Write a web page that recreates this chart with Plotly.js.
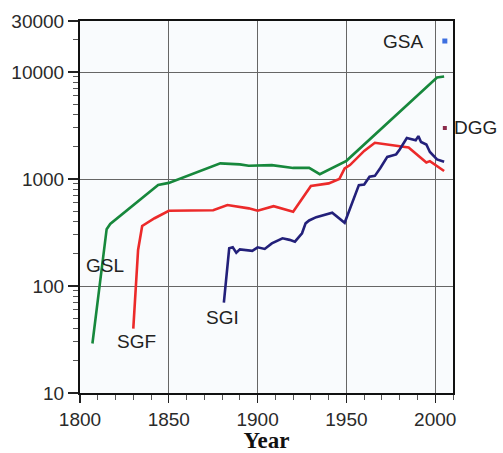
<!DOCTYPE html>
<html>
<head>
<meta charset="utf-8">
<script src="https://cdn.plot.ly/plotly-3.0.1.min.js"></script>
<style>html,body{margin:0;padding:0;background:#fff;}#chart{width:503px;height:453px;}</style>
</head>
<body>
<div id="chart"></div>
<script>
// GSL (green)
const gslYears = [1807, 1815, 1817, 1844, 1850, 1879, 1890, 1895, 1908, 1920, 1929, 1935, 1950, 2001, 2005];
const gslValues = [29, 340, 380, 880, 920, 1400, 1370, 1330, 1350, 1270, 1270, 1110, 1480, 8900, 9100];
// SGF (red)
const sgfYears = [1830, 1832.7, 1835, 1842, 1850, 1875, 1883, 1895, 1900, 1909, 1920, 1926, 1930, 1940, 1946, 1949, 1952, 1960, 1966, 1985, 1995, 1997, 2005];
const sgfValues = [40, 217, 364, 430, 505, 511, 571, 532, 505, 558, 494, 682, 860, 910, 1000, 1256, 1350, 1830, 2180, 1970, 1430, 1470, 1190];
// SGI (navy)
const sgiYears = [1881, 1884, 1886, 1888, 1890, 1897, 1900, 1904, 1908, 1914, 1918, 1921, 1925, 1927, 1929, 1933, 1942, 1949, 1957, 1960, 1963, 1966, 1969, 1973, 1978, 1980, 1984, 1987, 1989, 1990.5, 1992, 1995, 1997, 2001, 2005];
const sgiValues = [70, 225, 230, 205, 220, 213, 230, 222, 250, 279, 270, 260, 311, 385, 410, 440, 484, 390, 877, 890, 1050, 1070, 1260, 1610, 1700, 1890, 2420, 2340, 2300, 2520, 2220, 2100, 1790, 1525, 1450];
// single points
const gsaYear = [2005.4];
const gsaValue = [19500];
const dggYear = [2005.4];
const dggValue = [3000];
// ticks
const xTickVals = [1800, 1850, 1900, 1950, 2000];
const yTickVals = [10, 100, 1000, 10000, 30000];
const yTickText = ['10', '100', '1000', '10000', '30000'];

const yMinor = [];
for (let d = 10; d <= 10000; d *= 10) {
  for (let k = 2; k <= 9; k++) { if (k * d < 30000) yMinor.push(k * d); }
}

const lineW = 2.6;
const traces = [
  {x: gslYears, y: gslValues, mode: 'lines', line: {color: '#17883c', width: lineW}, hoverinfo: 'skip'},
  {x: sgfYears, y: sgfValues, mode: 'lines', line: {color: '#ec2a2a', width: lineW}, hoverinfo: 'skip'},
  {x: sgiYears, y: sgiValues, mode: 'lines', line: {color: '#23207a', width: lineW}, hoverinfo: 'skip'},
  {x: gsaYear, y: gsaValue, mode: 'markers', marker: {color: '#3d6fe0', size: 5, symbol: 'square'}, hoverinfo: 'skip'},
  {x: dggYear, y: dggValue, mode: 'markers', marker: {color: '#8a2a4a', size: 4, symbol: 'square'}, hoverinfo: 'skip'}
];

const labelFont = {family: 'Liberation Sans, Arial, sans-serif', size: 19, color: '#222'};
const layout = {
  width: 503, height: 453,
  margin: {l: 80, r: 50, t: 21, b: 60},
  paper_bgcolor: '#ffffff',
  plot_bgcolor: '#f9fbfd',
  showlegend: false,
  font: {family: 'Liberation Sans, Arial, sans-serif', size: 19, color: '#2a2a2a'},
  xaxis: {
    range: [1800, 2010],
    tickvals: xTickVals,
    ticks: 'outside', ticklen: 8, tickwidth: 1.2, tickcolor: '#222',
    showline: true, linecolor: '#111', linewidth: 2, mirror: true,
    showgrid: true, gridcolor: '#666', gridwidth: 1,
    zeroline: false,
    minor: {dtick: 10, ticks: 'outside', ticklen: 5, tickwidth: 1, tickcolor: '#555', showgrid: false},
    tickfont: {size: 19, color: '#2a2a2a'},
    title: {text: 'Year', font: {family: 'Liberation Serif, Times New Roman, serif', size: 23, color: '#111', weight: 'bold'}, standoff: 8}
  },
  yaxis: {
    type: 'log',
    range: [1, Math.log10(30000)],
    tickvals: yTickVals, ticktext: yTickText,
    ticks: 'outside', ticklen: 10, tickwidth: 1.2, tickcolor: '#222',
    showline: true, linecolor: '#111', linewidth: 2, mirror: true,
    showgrid: true, gridcolor: '#666', gridwidth: 1,
    zeroline: false,
    minor: {tickvals: yMinor, ticks: 'outside', ticklen: 5, tickwidth: 1, tickcolor: '#555', showgrid: false},
    tickfont: {size: 19, color: '#2a2a2a'}
  },
  annotations: [
    {x: 1814, y: Math.log10(156), text: 'GSL', showarrow: false, font: labelFont, xanchor: 'center', yanchor: 'middle'},
    {x: 1832, y: Math.log10(30), text: 'SGF', showarrow: false, font: labelFont, xanchor: 'center', yanchor: 'middle'},
    {x: 1880, y: Math.log10(51), text: 'SGI', showarrow: false, font: labelFont, xanchor: 'center', yanchor: 'middle'},
    {x: 1994, y: Math.log10(19500), text: 'GSA', showarrow: false, font: labelFont, xanchor: 'right', yanchor: 'middle'},
    {x: 2009.5, y: Math.log10(3000), text: 'DGG', showarrow: false, font: labelFont, xanchor: 'left', yanchor: 'middle'}
  ]
};

Plotly.newPlot('chart', traces, layout, {displayModeBar: false, staticPlot: true});
</script>
</body>
</html>
